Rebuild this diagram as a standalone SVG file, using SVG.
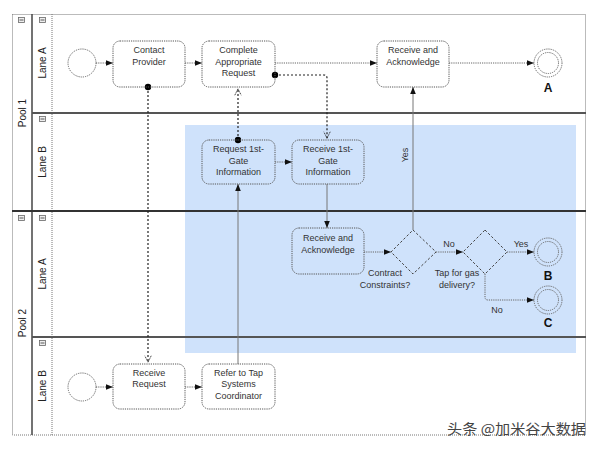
<svg xmlns="http://www.w3.org/2000/svg" width="600" height="450" viewBox="0 0 600 450">
<style>
text{font-family:"Liberation Sans",Arial,sans-serif;fill:#333;}
.t{font-size:9px;text-anchor:middle;}
.lbl{font-size:10px;text-anchor:middle;fill:#222;}
.end{font-size:12px;font-weight:bold;text-anchor:middle;fill:#111;}
.task{fill:none;stroke:#555;stroke-width:1;stroke-dasharray:1.2 1;}
.ev{fill:none;stroke:#666;stroke-width:1;stroke-dasharray:1.2 1;}
.gw{fill:none;stroke:#444;stroke-width:1;stroke-dasharray:2.5 2;}
.seq{fill:none;stroke:#666;stroke-width:1;stroke-dasharray:1.2 1;marker-end:url(#fa);}
.solid{fill:none;stroke:#777;stroke-width:1;marker-end:url(#fa);}
.msg{fill:none;stroke:#222;stroke-width:1.2;stroke-dasharray:2 2;marker-start:url(#dot);marker-end:url(#oa);}
.div{stroke:#555;stroke-width:2;}
.dot{stroke:#777;stroke-width:1;stroke-dasharray:1 1;fill:none;}
.ico{fill:#eee;stroke:#666;stroke-width:0.8;}
</style>
<defs>
<marker id="fa" viewBox="0 0 10 10" refX="10" refY="5" markerWidth="7" markerHeight="7" orient="auto" markerUnits="userSpaceOnUse"><path d="M0,1 L10,5 L0,9 z" fill="#111"/></marker>
<marker id="oa" viewBox="0 0 10 10" refX="10" refY="5" markerWidth="8" markerHeight="8" orient="auto" markerUnits="userSpaceOnUse"><path d="M1,1 L9,5 L1,9" fill="none" stroke="#222" stroke-width="1.2" stroke-dasharray="1.5 1"/></marker>
<marker id="dot" viewBox="0 0 10 10" refX="5" refY="5" markerWidth="8" markerHeight="8" orient="auto" markerUnits="userSpaceOnUse"><circle cx="5" cy="5" r="4" fill="#000"/></marker>
</defs>
<rect width="600" height="450" fill="#fff"/>
<g id="swimlanes">
<rect x="185" y="125" width="391" height="228" fill="#cfe2fb"/>
<rect x="12.5" y="14.5" width="573" height="420.5" class="dot"/>
<line x1="32" y1="14" x2="32" y2="435" stroke="#444" stroke-width="1.5"/>
<line x1="52" y1="14" x2="52" y2="435" class="dot"/>
<line x1="32" y1="113" x2="586" y2="113" class="div"/>
<line x1="12" y1="211" x2="586" y2="211" stroke="#333" stroke-width="2"/>
<line x1="32" y1="337" x2="586" y2="337" class="div"/>
<rect x="18.5" y="17.5" width="6" height="5" class="ico"/><line x1="19.5" y1="20" x2="23.5" y2="20" stroke="#333" stroke-width="0.8"/>
<rect x="39.5" y="17.5" width="6" height="5" class="ico"/><line x1="40.5" y1="20" x2="44.5" y2="20" stroke="#333" stroke-width="0.8"/>
<rect x="39.5" y="116.5" width="6" height="5" class="ico"/><line x1="40.5" y1="119" x2="44.5" y2="119" stroke="#333" stroke-width="0.8"/>
<rect x="18.5" y="215.5" width="6" height="5" class="ico"/><line x1="19.5" y1="218" x2="23.5" y2="218" stroke="#333" stroke-width="0.8"/>
<rect x="39.5" y="215.5" width="6" height="5" class="ico"/><line x1="40.5" y1="218" x2="44.5" y2="218" stroke="#333" stroke-width="0.8"/>
<rect x="39.5" y="340.5" width="6" height="5" class="ico"/><line x1="40.5" y1="343" x2="44.5" y2="343" stroke="#333" stroke-width="0.8"/>
<text class="lbl" transform="translate(26,113) rotate(-90)">Pool 1</text>
<text class="lbl" transform="translate(26,323) rotate(-90)">Pool 2</text>
<text class="lbl" transform="translate(46,63) rotate(-90)">Lane A</text>
<text class="lbl" transform="translate(46,162) rotate(-90)">Lane B</text>
<text class="lbl" transform="translate(46,274) rotate(-90)">Lane A</text>
<text class="lbl" transform="translate(46,386) rotate(-90)">Lane B</text>
</g>
<g id="connectors">
<line x1="96" y1="63" x2="113" y2="63" class="seq"/>
<line x1="185" y1="63" x2="202" y2="63" class="seq"/>
<line x1="275" y1="63" x2="377" y2="63" class="seq"/>
<line x1="449" y1="63" x2="534" y2="63" class="seq"/>
<line x1="275" y1="162" x2="292" y2="162" class="seq"/>
<line x1="96" y1="387" x2="113" y2="387" class="seq"/>
<line x1="185" y1="387" x2="202" y2="387" class="seq"/>
<line x1="327" y1="184" x2="327" y2="228" class="solid"/>
<line x1="238" y1="364" x2="238" y2="184" class="solid"/>
<line x1="364" y1="252" x2="391" y2="252" class="seq"/>
<line x1="413" y1="230" x2="413" y2="87" class="solid"/>
<line x1="436" y1="252" x2="463" y2="252" class="seq"/>
<line x1="507" y1="252" x2="534" y2="252" class="seq"/>
<path d="M485,274 V297 Q485,300 488,300 H534" class="seq"/>
<line x1="148" y1="87" x2="148" y2="363" class="msg"/>
<line x1="238" y1="140" x2="238" y2="88" class="msg"/>
<path d="M275,75 H324 Q327,75 327,78 V139" class="msg"/>
<text class="t" transform="translate(408,155) rotate(-90)">Yes</text>
<text class="t" x="449" y="247">No</text>
<text class="t" x="521" y="247">Yes</text>
<text class="t" x="497" y="313">No</text>
</g>
<g id="start1"><circle cx="82" cy="63" r="14" class="ev"/></g>
<g id="contactProvider"><rect x="113" y="41" width="72" height="46" rx="7" class="task"/><text class="t" x="149" y="53">Contact</text><text class="t" x="149" y="65">Provider</text></g>
<g id="completeRequest"><rect x="202" y="41" width="73" height="46" rx="7" class="task"/><text class="t" x="238.5" y="53">Complete</text><text class="t" x="238.5" y="65">Appropriate</text><text class="t" x="238.5" y="76">Request</text></g>
<g id="receiveAck1"><rect x="377" y="41" width="72" height="46" rx="7" class="task"/><text class="t" x="413" y="53">Receive and</text><text class="t" x="413" y="65">Acknowledge</text></g>
<g id="endA"><circle cx="548" cy="63" r="14" class="ev"/><circle cx="548" cy="63" r="10.5" class="ev"/><text class="end" x="548" y="92">A</text></g>
<g id="request1st"><rect x="202" y="140" width="73" height="44" rx="7" class="task"/><text class="t" x="238.5" y="152">Request 1st-</text><text class="t" x="238.5" y="164">Gate</text><text class="t" x="238.5" y="175">Information</text></g>
<g id="receive1st"><rect x="292" y="140" width="72" height="44" rx="7" class="task"/><text class="t" x="328" y="152">Receive 1st-</text><text class="t" x="328" y="164">Gate</text><text class="t" x="328" y="175">Information</text></g>
<g id="receiveAck2"><rect x="292" y="228" width="72" height="46" rx="7" class="task"/><text class="t" x="328" y="241">Receive and</text><text class="t" x="328" y="253">Acknowledge</text></g>
<g id="gwContract"><path d="M413,230 L436,252 L413,274 L391,252 Z" class="gw"/><text class="t" x="385" y="276">Contract</text><text class="t" x="385" y="288">Constraints?</text></g>
<g id="gwTap"><path d="M485,230 L507,252 L485,274 L463,252 Z" class="gw"/><text class="t" x="457" y="276">Tap for gas</text><text class="t" x="457" y="288">delivery?</text></g>
<g id="endB"><circle cx="548" cy="252" r="14" class="ev"/><circle cx="548" cy="252" r="10.5" class="ev"/><text class="end" x="548" y="280">B</text></g>
<g id="endC"><circle cx="548" cy="300" r="14" class="ev"/><circle cx="548" cy="300" r="10.5" class="ev"/><text class="end" x="548" y="327">C</text></g>
<g id="start2"><circle cx="82" cy="387" r="14" class="ev"/></g>
<g id="receiveRequest"><rect x="113" y="364" width="72" height="45" rx="7" class="task"/><text class="t" x="149" y="376">Receive</text><text class="t" x="149" y="387">Request</text></g>
<g id="referTap"><rect x="202" y="364" width="73" height="45" rx="7" class="task"/><text class="t" x="238.5" y="376">Refer to Tap</text><text class="t" x="238.5" y="387">Systems</text><text class="t" x="238.5" y="399">Coordinator</text></g>
<text x="447" y="434" textLength="139" lengthAdjust="spacingAndGlyphs" style="font-family:'Noto Sans CJK SC','Liberation Sans',sans-serif;font-size:14px;fill:#444;">头条 @加米谷大数据</text>
</svg>
